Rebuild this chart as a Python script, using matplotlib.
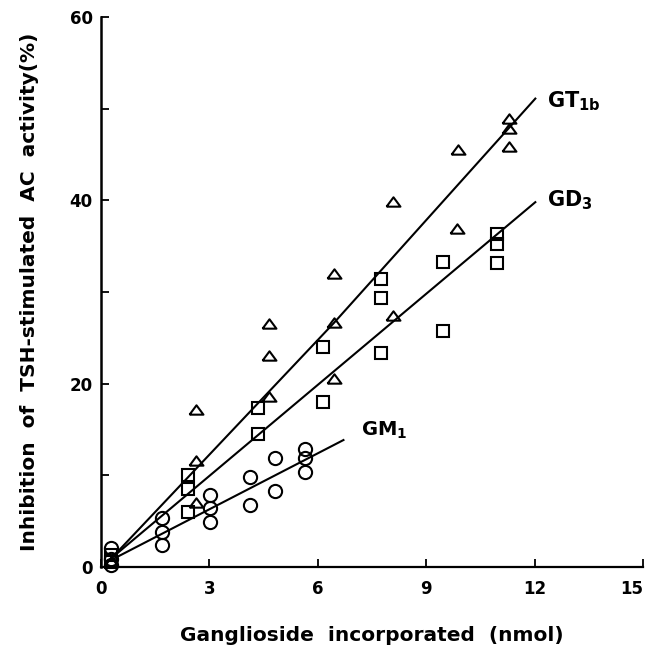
import numpy as np
import matplotlib.pyplot as plt

plt.rcParams['font.family'] = 'DejaVu Sans'
plt.rcParams['font.weight'] = 'bold'
plt.rcParams['mathtext.fontset'] = 'dejavusans'

# GT1b (triangles)
gt_x = [0.28, 2.63, 2.63, 2.63, 4.65, 4.65, 4.65, 6.44, 6.44, 6.44,
        8.07, 8.07, 9.85, 9.87, 11.28, 11.28, 11.28]
gt_y = [0.5, 7.0, 11.6, 17.1, 18.5, 23.0, 26.5, 20.5, 26.6, 32.0,
        27.4, 39.8, 36.9, 45.5, 45.8, 47.8, 48.9]
# GD3 (squares)
gd_x = [0.28, 0.28, 2.41, 2.41, 2.41, 4.34, 4.34, 6.14, 6.14,
        7.75, 7.75, 7.75, 9.46, 9.46, 10.96, 10.96, 10.96]
gd_y = [0.6, 1.3, 6.0, 8.5, 10.0, 14.5, 17.4, 18.0, 24.0,
        23.3, 29.4, 31.4, 25.8, 33.3, 33.2, 35.2, 36.3]
# GM1 (circles)
gm_x = [0.28, 0.28, 0.28, 1.69, 1.69, 1.69, 3.02, 3.02, 3.02,
        4.12, 4.12, 4.82, 4.82, 5.65, 5.65, 5.65]
gm_y = [0.2, 0.9, 2.1, 2.4, 3.85, 5.4, 4.95, 6.4, 7.85,
        6.8, 9.85, 8.3, 11.85, 10.4, 11.85, 12.9]

# fitted lines as drawn
gt_line_x = [0.3, 6.44, 12.02]
gt_line_y = [1.0, 26.6, 51.1]
gd_line_x = [0.3, 12.02]
gd_line_y = [1.0, 39.8]
gm_line_x = [0.3, 6.71]
gm_line_y = [0.8, 13.85]

# flat open triangle like the original
tri = [(-1, -0.6), (1, -0.6), (0, 0.75), (-1, -0.6)]

fig = plt.figure(figsize=(6.48, 6.48), dpi=100)
ax = fig.add_axes([101/648, 81/648, 542/648, 550/648])

for lx, ly in [(gt_line_x, gt_line_y), (gd_line_x, gd_line_y), (gm_line_x, gm_line_y)]:
    ax.plot(lx, ly, color='black', lw=1.5, clip_on=False)

ax.plot(gt_x, gt_y, ls='none', marker=tri, ms=10, mfc='none', mec='black', mew=1.5, clip_on=False)
ax.plot(gd_x, gd_y, ls='none', marker='s', ms=8.3, mfc='none', mec='black', mew=1.5, clip_on=False)
ax.plot(gm_x, gm_y, ls='none', marker='o', ms=9.5, mfc='none', mec='black', mew=1.5, clip_on=False)

ax.text(12.35, 50.8, r'GT$_{\bf 1b}$', fontsize=15, fontweight='bold', va='center')
ax.text(12.35, 40.0, r'GD$_{\bf 3}$', fontsize=15, fontweight='bold', va='center')
ax.text(7.2, 14.9, r'GM$_{\bf 1}$', fontsize=14, fontweight='bold', va='center')

ax.set_xlim(0, 15)
ax.set_ylim(0, 60)
ax.set_xticks([0, 3, 6, 9, 12, 15])
ax.set_yticks([0, 20, 40, 60])
ax.set_yticks([10, 30, 50], minor=True)
ax.spines['top'].set_visible(False)
ax.spines['right'].set_visible(False)
ax.spines['left'].set_linewidth(1.8)
ax.spines['bottom'].set_linewidth(1.6)
ax.tick_params(axis='both', which='both', direction='in', length=6, width=1.3,
               labelsize=12)
ax.tick_params(axis='x', pad=9)
ax.tick_params(axis='y', pad=6)
ax.get_xticklabels()[-1].set_horizontalalignment('right')

xl = ax.set_xlabel('Ganglioside  incorporated  (nmol)', fontsize=14.5, fontweight='bold')
ax.xaxis.set_label_coords(0.5, -(641 - 567) / 550)
xl.set_verticalalignment('baseline')
yl = ax.set_ylabel('Inhibition  of  TSH-stimulated  AC  activity(%)', fontsize=14.5, fontweight='bold')
ax.yaxis.set_label_coords((30 - 101) / 542, 0.5)
yl.set_verticalalignment('center')

fig.savefig('out.png', dpi=100)
